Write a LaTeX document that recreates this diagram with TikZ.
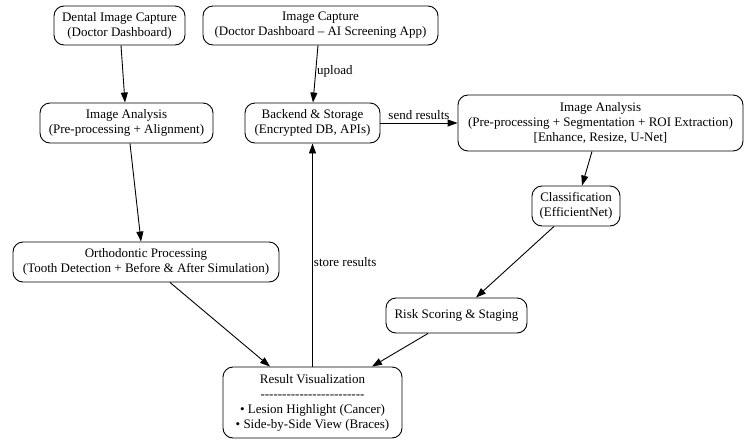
\documentclass[tikz,border=0pt]{standalone}
\usepackage{fontspec}
\setmainfont{Liberation Serif}[Ligatures=TeXOff]
\usepackage{tikz}
\usetikzlibrary{arrows.meta}
\tikzset{
  stagebox/.style={
    draw, line width=0.9pt, rounded corners=10pt,
    align=center, inner sep=0pt,
    font=\fontsize{13}{15}\selectfont
  },
  flow/.style={
    line width=0.9pt,
    -{Triangle[length=10pt, width=7pt]}
  },
  edgelabel/.style={
    font=\fontsize{13}{15}\selectfont, inner sep=0pt
  }
}

\begin{document}
\begin{tikzpicture}[x=1pt, y=-1pt]
  \useasboundingbox (0,0) rectangle (748,440);

  % ── Dental / orthodontic branch ──────────────────────────────────
  \node[stagebox, minimum width=131pt, minimum height=39pt] (dentalcap) at (119.5,25.5)
    {Dental Image Capture\\(Doctor Dashboard)};
  \node[stagebox, minimum width=173pt, minimum height=40pt] (analysisL) at (126.5,123)
    {Image Analysis\\(Pre-processing + Alignment)};
  \node[stagebox, minimum width=266pt, minimum height=40pt] (ortho) at (146,262)
    {Orthodontic Processing\\(Tooth Detection + Before \& After Simulation)};

  % ── Screening branch ─────────────────────────────────────────────
  \node[stagebox, minimum width=235pt, minimum height=39pt] (aicap) at (320.5,25.5)
    {Image Capture\\(Doctor Dashboard – AI Screening App)};
  \node[stagebox, minimum width=135pt, minimum height=40pt] (backend) at (312.5,123)
    {Backend \& Storage\\(Encrypted DB, APIs)};
  \node[stagebox, minimum width=285pt, minimum height=56pt] (analysisR) at (600.5,123)
    {Image Analysis\\(Pre-processing + Segmentation + ROI Extraction)\\{}[Enhance, Resize, U-Net]};
  \node[stagebox, minimum width=88pt, minimum height=40pt] (classify) at (576,206)
    {Classification\\(EfficientNet)};
  \node[stagebox, minimum width=141pt, minimum height=35pt] (risk) at (456.5,315.5)
    {Risk Scoring \& Staging};

  % ── Output ───────────────────────────────────────────────────────
  \node[stagebox, minimum width=179pt, minimum height=71pt] (result) at (312.5,402.5)
    {Result Visualization\\------------------------\\
     • Lesion Highlight (Cancer)\\• Side-by-Side View (Braces)};

  % ── Connectors ───────────────────────────────────────────────────
  \draw[flow] ([xshift=1.5pt]dentalcap.south) -- ([xshift=-1.5pt]analysisL.north);
  \draw[flow] ([xshift=3.5pt]analysisL.south) -- ([xshift=-5pt]ortho.north);
  \draw[flow] ([xshift=24pt]ortho.south) -- ([xshift=-42.5pt]result.north);

  \draw[flow] ([xshift=-2.5pt]aicap.south) -- ([xshift=0.5pt]backend.north)
    node[edgelabel, pos=0.45, anchor=west, xshift=1pt] {upload};
  \draw[flow] (backend.east) -- (analysisR.west)
    node[edgelabel, midway, anchor=south, yshift=3pt] {send results};
  \draw[flow] ([xshift=-8.5pt]analysisR.south) -- ([xshift=6pt]classify.north);
  \draw[flow] ([xshift=-22pt]classify.south) -- ([xshift=19.5pt]risk.north);
  \draw[flow] ([xshift=-28.5pt]risk.south) -- ([xshift=59.5pt]result.north);
  \draw[flow] (result.north) -- (backend.south)
    node[edgelabel, pos=0.47, anchor=west, xshift=1pt] {store results};
\end{tikzpicture}
\end{document}
